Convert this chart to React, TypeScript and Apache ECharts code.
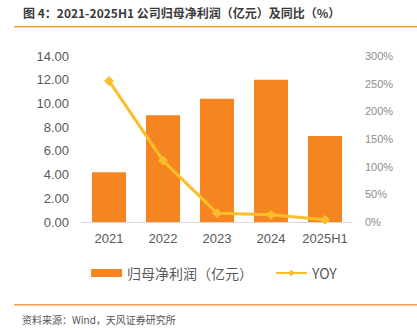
import React, { useEffect, useRef } from "react";
import * as echarts from "echarts";

const categories = ["2021", "2022", "2023", "2024", "2025H1"];
const profit = [4.2, 9.0, 10.4, 12.0, 7.25];
const yoy = [255, 111, 16, 13, 4];
const leftTicks = [0, 2, 4, 6, 8, 10, 12, 14];
const rightTicks = [0, 50, 100, 150, 200, 250, 300];

const FONT = "'Noto Sans CJK SC', 'Noto Sans', sans-serif";
const NUMFONT = "'Liberation Sans', Arial, sans-serif";

export default function App() {
  const ref = useRef<HTMLDivElement>(null);
  useEffect(() => {
    if (!ref.current) return;
    const chart = echarts.init(ref.current, null, { renderer: "svg" });
    chart.setOption({
      animation: false,
      backgroundColor: "#ffffff",
      textStyle: { fontFamily: FONT },
      title: {
        text: "图 4：2021-2025H1 公司归母净利润（亿元）及同比（%）",
        left: 23,
        top: 6,
        padding: 0,
        textStyle: { fontSize: 12, fontWeight: "bold", color: "#3a3a3a", fontFamily: FONT },
      },
      graphic: [
        {
          type: "rect",
          shape: { x: 14, y: 26, width: 403, height: 1.5 },
          style: { fill: "#F39A4A" },
        },
        {
          type: "rect",
          shape: { x: 14, y: 304, width: 403, height: 1.5 },
          style: { fill: "#F39A4A" },
        },
        {
          type: "text",
          x: 22,
          y: 314,
          style: {
            text: "资料来源：Wind，天风证券研究所",
            font: "10px " + FONT,
            fill: "#555555",
          },
        },
      ],
      grid: { left: 82, right: 65, top: 56, bottom: 111, containLabel: false },
      legend: {
        top: 261,
        left: 86,
        itemGap: 22,
        itemWidth: 31,
        itemHeight: 8,
        textStyle: { color: "#595959", fontSize: 14, fontFamily: FONT },
        data: [
          { name: "归母净利润（亿元）", icon: "rect" },
          { name: "YOY" },
        ],
      },
      xAxis: {
        type: "category",
        data: categories,
        axisLine: { lineStyle: { color: "#d9d9d9", width: 1 } },
        axisTick: { show: false },
        axisLabel: { color: "#595959", fontSize: 13, margin: 10, interval: 0, fontFamily: NUMFONT },
      },
      yAxis: [
        {
          type: "value",
          min: leftTicks[0],
          max: leftTicks[leftTicks.length - 1],
          interval: 2,
          splitLine: { show: false },
          axisLine: { show: false },
          axisTick: { show: false },
          axisLabel: {
            color: "#595959",
            fontSize: 13,
            margin: 13,
            fontFamily: NUMFONT,
            formatter: (v: number) => v.toFixed(2),
          },
        },
        {
          type: "value",
          min: rightTicks[0],
          max: rightTicks[rightTicks.length - 1],
          interval: 50,
          splitLine: { show: false },
          axisLine: { show: false },
          axisTick: { show: false },
          axisLabel: {
            color: "#8c8c8c",
            fontSize: 11,
            margin: 13,
            fontFamily: NUMFONT,
            formatter: (v: number) => v + "%",
          },
        },
      ],
      series: [
        {
          name: "归母净利润（亿元）",
          type: "bar",
          data: profit,
          barWidth: "63%",
          itemStyle: { color: "#F58520" },
        },
        {
          name: "YOY",
          type: "line",
          yAxisIndex: 1,
          data: yoy,
          symbol: "diamond",
          symbolSize: 10,
          lineStyle: { color: "#FBBD2A", width: 3 },
          itemStyle: { color: "#FBBD2A" },
        },
      ],
    });
    return () => chart.dispose();
  }, []);
  return <div ref={ref} style={{ width: 417, height: 333, position: "absolute", left: 0, top: 0 }} />;
}
